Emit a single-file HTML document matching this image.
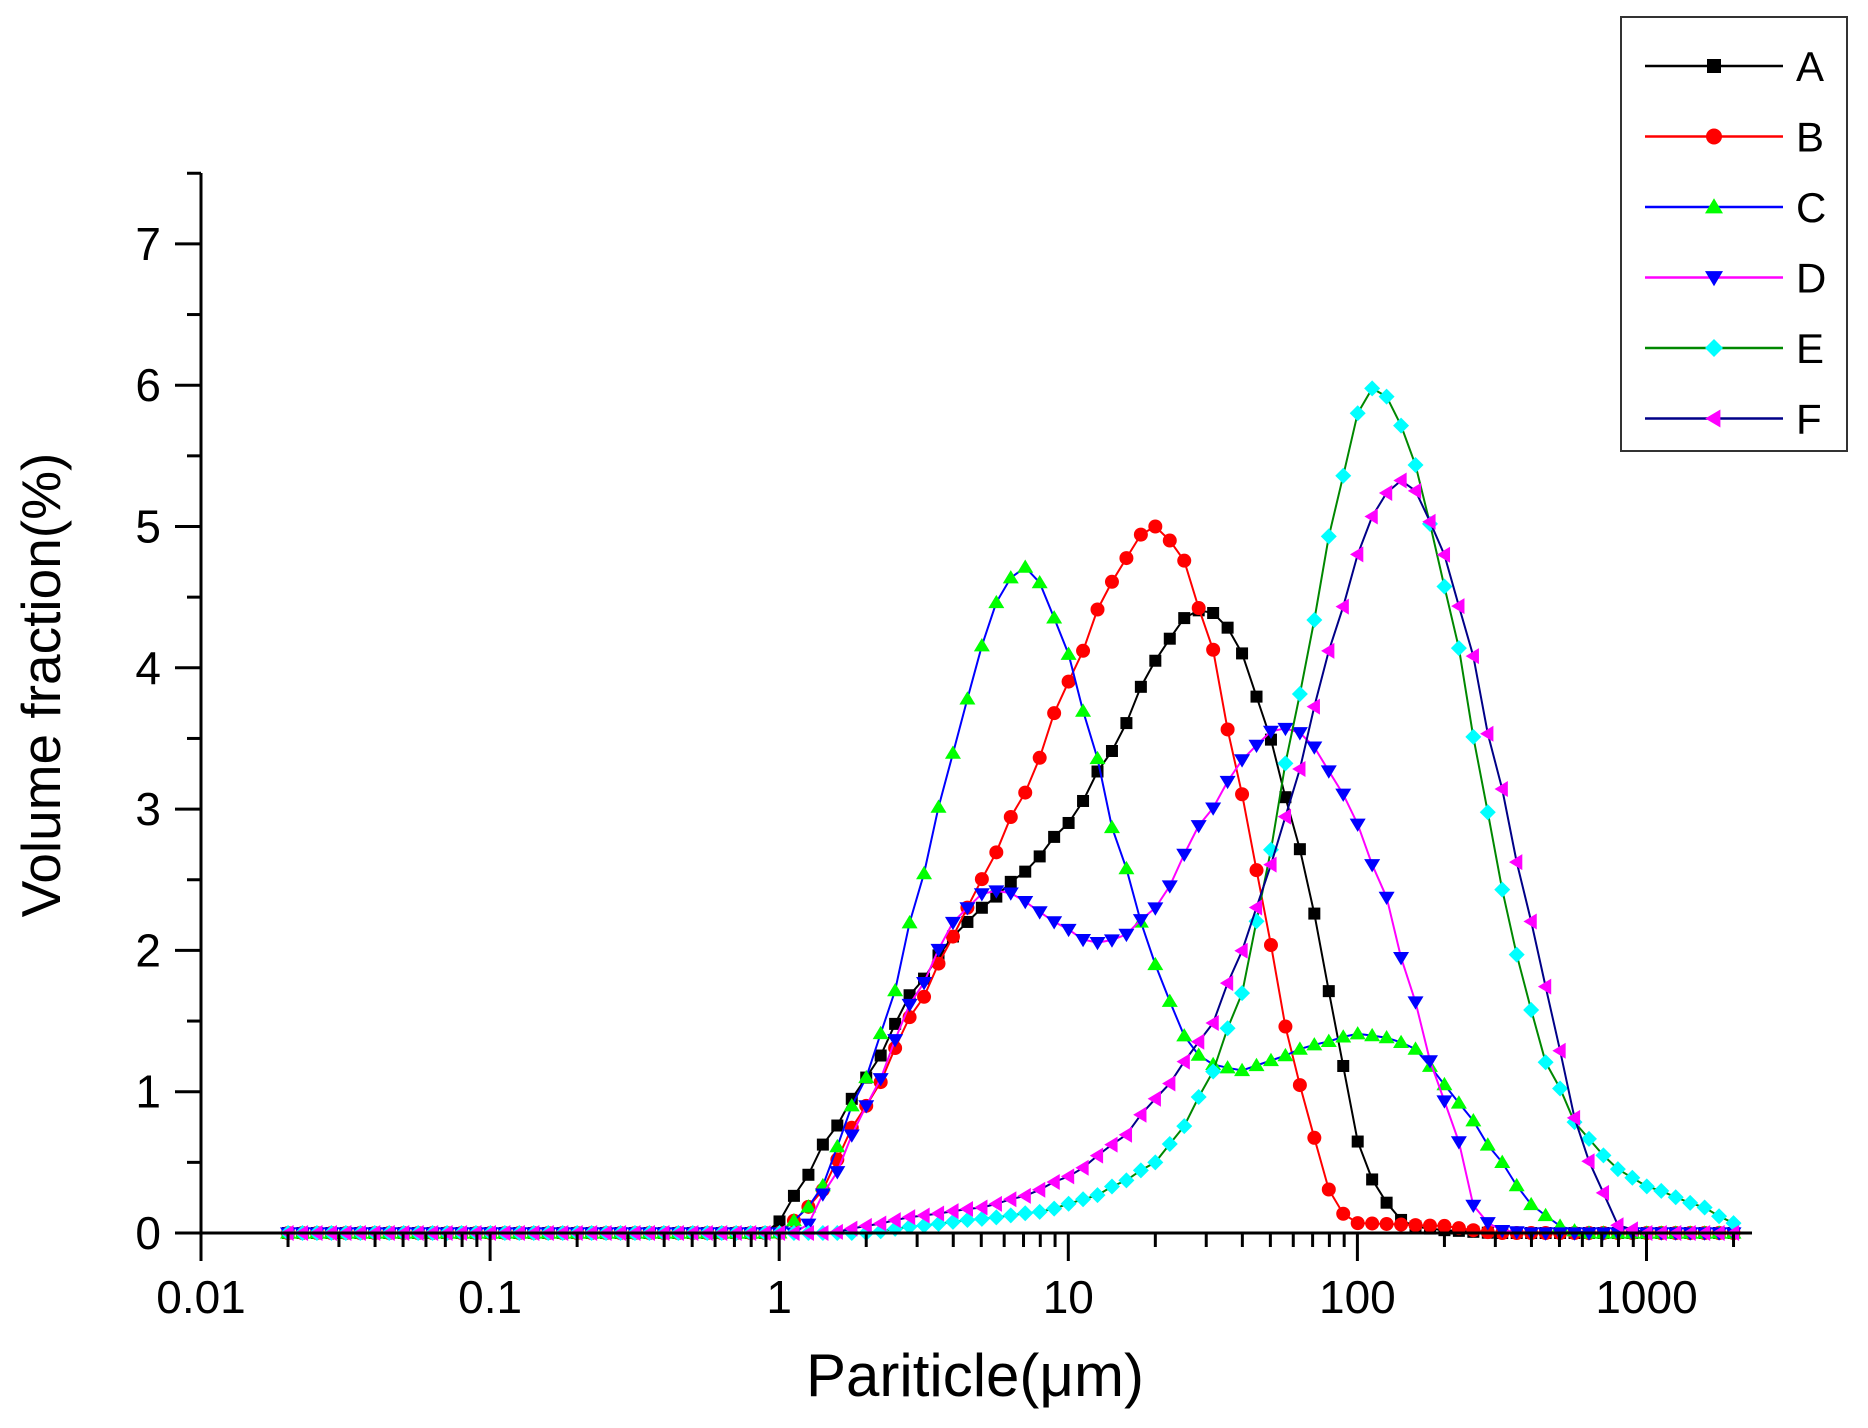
<!DOCTYPE html>
<html><head><meta charset="utf-8"><style>
html,body{margin:0;padding:0;background:#fff}
svg{display:block}
text{font-family:"Liberation Sans",sans-serif;fill:#000}
</style></head><body>
<svg id="s" width="1868" height="1428" xmlns="http://www.w3.org/2000/svg">
<rect width="1868" height="1428" fill="#fff"/>
<g id="plot"></g>
<g id="axes" stroke="#000" stroke-width="3"></g>
<g id="lab"></g>
<text x="42" y="685" font-size="55" text-anchor="middle" transform="rotate(-90 42 685)" dy="18">Volume fraction(%)</text>
<text x="975" y="1396" font-size="60" text-anchor="middle">Pariticle(μm)</text>
<rect x="1621" y="17" width="226" height="434" fill="#fff" stroke="#333" stroke-width="2"/>
<g id="leg"></g>
</svg>
<script>
var NS="http://www.w3.org/2000/svg";
function el(p,t,a){var e=document.createElementNS(NS,t);for(var k in a)e.setAttribute(k,a[k]);p.appendChild(e);return e;}
var X0=201,DEC=289.1,Y0=1233,UY=141.3;
function px(x){return X0+(Math.log10(x)+2)*DEC;}
function py(y){return Y0-y*UY;}
var axes=document.getElementById('axes'),lab=document.getElementById('lab');
el(axes,'line',{x1:X0,y1:173,x2:X0,y2:Y0+1.5});
el(axes,'line',{x1:X0-1.5,y1:Y0,x2:1752,y2:Y0});
for(var i=0;i<=15;i++){var y=py(i/2);el(axes,'line',{x1:X0,y1:y,x2:X0-(i%2?14:26),y2:y});
 if(i%2==0){var t=el(lab,'text',{x:X0-40,y:y+16,'font-size':46,'text-anchor':'end'});t.textContent=i/2;}}
var labs=['0.01','0.1','1','10','100','1000'];
for(var d=-2;d<=3;d++){for(var m=1;m<=9;m++){var v=m*Math.pow(10,d);if(v>2200)break;var x=px(v);
 el(axes,'line',{x1:x,y1:Y0,x2:x,y2:Y0+(m==1?28:14)});}
 var t=el(lab,'text',{x:px(Math.pow(10,d)),y:Y0+80,'font-size':46,'text-anchor':'middle'});t.textContent=labs[d+2];}
var S=[
{lc:'#000',mc:'#000',m:'sq',k:[[0.02,0],[0.95,0],[1,0.08],[1.2,0.35],[1.5,0.7],[2,1.1],[3,1.75],[4,2.1],[5,2.3],[7,2.55],[10,2.9],[14,3.4],[20,4.05],[25,4.35],[30,4.43],[35,4.3],[40,4.1],[50,3.5],[60,2.9],[70,2.3],[80,1.7],[100,0.65],[120,0.25],[150,0.05],[200,0.02],[300,0],[2000,0]]},
{lc:'#f00',mc:'#f00',m:'ci',k:[[0.02,0],[1,0],[1.3,0.2],[2,0.9],[3,1.6],[4,2.1],[5,2.5],[7,3.1],[10,3.9],[14,4.6],[18,4.95],[20,5.0],[24,4.85],[30,4.3],[40,3.1],[50,2.05],[60,1.2],[70,0.7],[80,0.3],[90,0.13],[100,0.07],[200,0.05],[250,0.02],[300,0],[2000,0]]},
{lc:'#00f',mc:'#0f0',m:'up',k:[[0.02,0],[1,0],[1.3,0.2],[2,1.1],[2.5,1.7],[3,2.4],[4,3.4],[5,4.15],[6,4.6],[7,4.72],[8,4.6],[10,4.1],[12,3.5],[15,2.7],[20,1.9],[25,1.4],[30,1.2],[40,1.15],[50,1.22],[70,1.33],[100,1.41],[130,1.38],[160,1.3],[200,1.05],[250,0.8],[300,0.55],[400,0.2],[500,0.05],[600,0],[2000,0]]},
{lc:'#f0f',mc:'#00f',m:'dn',k:[[0.02,0],[1.2,0],[1.5,0.35],[2,0.9],[3,1.7],[4,2.2],[5,2.4],[6,2.43],[7,2.35],[9,2.2],[12,2.05],[15,2.08],[20,2.3],[30,2.95],[40,3.35],[50,3.55],[60,3.58],[70,3.45],[90,3.1],[120,2.5],[150,1.8],[180,1.2],[220,0.7],[250,0.2],[300,0.02],[400,0],[2000,0]]},
{lc:'#080',mc:'#0ff',m:'di',k:[[0.02,0],[2,0],[3,0.05],[5,0.1],[8,0.15],[12,0.25],[15,0.35],[20,0.5],[25,0.75],[30,1.05],[40,1.7],[50,2.7],[60,3.6],[70,4.3],[85,5.2],[100,5.8],[115,6.0],[130,5.9],[150,5.6],[180,5.0],[220,4.2],[280,3.0],[350,2.0],[450,1.2],[600,0.7],[800,0.45],[1000,0.33],[1500,0.2],[2000,0.07]]},
{lc:'#008',mc:'#f0f',m:'le',k:[[0.02,0],[1.5,0],[2,0.05],[3,0.12],[5,0.18],[7,0.26],[10,0.4],[15,0.65],[20,0.95],[30,1.4],[40,2.0],[50,2.6],[60,3.1],[70,3.7],[85,4.3],[100,4.8],[120,5.2],[140,5.33],[160,5.25],[200,4.8],[250,4.1],[300,3.3],[400,2.2],[500,1.3],[600,0.6],[700,0.3],[800,0.05],[1000,0],[2000,0]]}
];
function interp(k,x){var lx=Math.log10(x);for(var i=0;i<k.length-1;i++){var a=Math.log10(k[i][0]),b=Math.log10(k[i+1][0]);if(lx>=a-1e-9&&lx<=b+1e-9){var t=(lx-a)/(b-a);t=t*t*(3-2*t)*0.5+t*0.5;return k[i][1]+(k[i+1][1]-k[i][1])*t;}}return 0;}
function mark(g,t,x,y,c,r){r=r||7;
 if(t=='sq')el(g,'rect',{x:x-r+1,y:y-r+1,width:2*r-2,height:2*r-2,fill:c});
 else if(t=='ci')el(g,'circle',{cx:x,cy:y,r:r,fill:c});
 else if(t=='up')el(g,'polygon',{points:(x-r-1)+','+(y+r*0.8)+' '+(x+r+1)+','+(y+r*0.8)+' '+x+','+(y-r*1.1),fill:c});
 else if(t=='dn')el(g,'polygon',{points:(x-r-1)+','+(y-r*0.8)+' '+(x+r+1)+','+(y-r*0.8)+' '+x+','+(y+r*1.1),fill:c});
 else if(t=='di')el(g,'polygon',{points:x+','+(y-r-1)+' '+(x+r+1)+','+y+' '+x+','+(y+r+1)+' '+(x-r-1)+','+y,fill:c});
 else el(g,'polygon',{points:(x+r*0.8)+','+(y-r-1)+' '+(x+r*0.8)+','+(y+r+1)+' '+(x-r*1.1)+','+y,fill:c});}
var plot=document.getElementById('plot'),N=101;
S.forEach(function(s){var pts=[];for(var i=0;i<N;i++){var x=0.02*Math.pow(10,5*i/(N-1));pts.push([px(x),py(interp(s.k,x))]);}
 el(plot,'polyline',{points:pts.map(function(p){return p[0].toFixed(1)+','+p[1].toFixed(1)}).join(' '),fill:'none',stroke:s.lc,'stroke-width':2});
 pts.forEach(function(p){mark(plot,s.m,p[0],p[1],s.mc);});});
var leg=document.getElementById('leg'),L='ABCDEF';
S.forEach(function(s,i){var y=66+i*70.5;el(leg,'line',{x1:1645,y1:y,x2:1783,y2:y,stroke:s.lc,'stroke-width':2.5});mark(leg,s.m,1714,y,s.mc,8);
 var t=el(leg,'text',{x:1796,y:y+15,'font-size':42});t.textContent=L[i];});
</script>
</body></html>
